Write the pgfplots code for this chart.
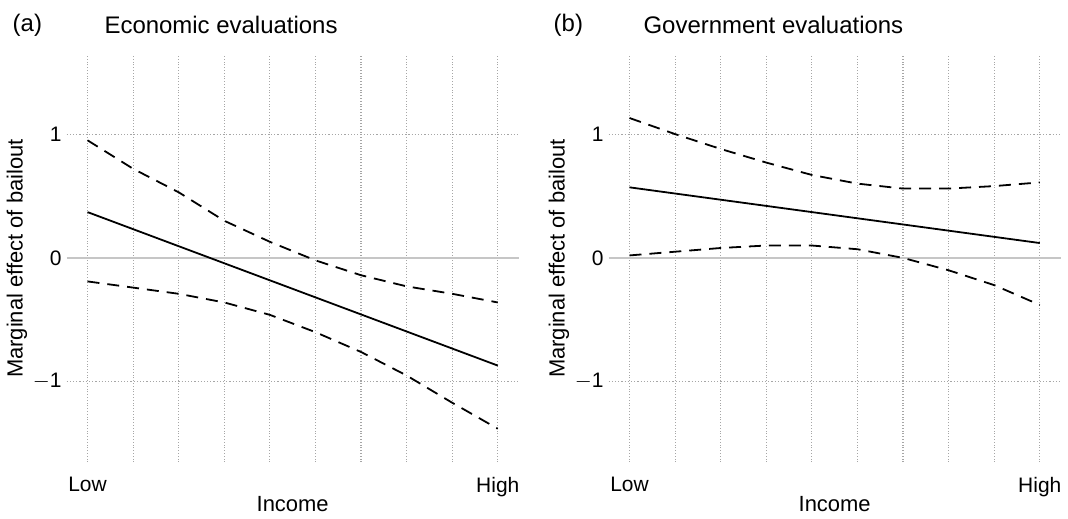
\documentclass[border=0pt]{standalone}
\usepackage{pgfplots}
\pgfplotsset{compat=1.18}
\usepackage{fontspec}
\setmainfont{Liberation Sans}
\pgfplotsset{
  panel/.style={
    scale only axis, width=226.5pt, height=204pt, anchor=south west,
    xmin=-0.46, xmax=9.46, ymin=-1.65, ymax=1.64,
    axis line style={draw=none}, major tick length=0pt,
    xtick={0,...,9}, xticklabels={Low,,,,,,,,,High},
    ytick={-1,0,1}, yticklabels={$-$1,0,1},
    /pgf/number format/assume math mode=true,
    xticklabel style={yshift=-4pt},
    yticklabel style={xshift=1pt},
    xmajorgrids, 
    tick label style={font=\fontsize{10.5}{12}\selectfont},
    label style={font=\fontsize{11}{13}\selectfont},
    xlabel={Income}, ylabel={Marginal effect of bailout},
    xlabel style={yshift=7pt},
    ylabel style={yshift=-4pt},
    grid style={densely dotted, gray!70, line width=0.6pt},
    clip=false,
  }
}
\begin{document}
\begin{tikzpicture}
\path (0pt,0pt) rectangle (534pt,258.5pt);
\begin{axis}[panel, at={(32.5pt,27pt)}]
\addplot[gray!45, line width=0.8pt, forget plot] coordinates {(-0.46,0) (9.46,0)};
\addplot[gray!70, densely dotted, line width=0.6pt, forget plot] coordinates {(-0.46,1) (9.46,1)};
\addplot[gray!70, densely dotted, line width=0.6pt, forget plot] coordinates {(-0.46,-1) (9.46,-1)};
\addplot[black, line width=0.9pt] coordinates {(0,0.37) (9,-0.87)};
\addplot[black, dashed, dash pattern=on 6pt off 4pt, line width=0.9pt] coordinates {
(0,0.95) (1,0.72) (2,0.53) (3,0.30) (4,0.13) (5,-0.02) (6,-0.14) (7,-0.23) (8,-0.29) (9,-0.36)};
\addplot[black, dashed, dash pattern=on 6pt off 4pt, line width=0.9pt] coordinates {
(0,-0.19) (1,-0.24) (2,-0.29) (3,-0.36) (4,-0.46) (5,-0.60) (6,-0.76) (7,-0.95) (8,-1.17) (9,-1.38)};
\end{axis}
\begin{axis}[panel, at={(304pt,27pt)}]
\addplot[gray!45, line width=0.8pt, forget plot] coordinates {(-0.46,0) (9.46,0)};
\addplot[gray!70, densely dotted, line width=0.6pt, forget plot] coordinates {(-0.46,1) (9.46,1)};
\addplot[gray!70, densely dotted, line width=0.6pt, forget plot] coordinates {(-0.46,-1) (9.46,-1)};
\addplot[black, line width=0.9pt] coordinates {(0,0.57) (9,0.12)};
\addplot[black, dashed, dash pattern=on 6pt off 4pt, line width=0.9pt] coordinates {
(0,1.13) (1,1.00) (2,0.88) (3,0.77) (4,0.67) (5,0.60) (6,0.56) (7,0.56) (8,0.58) (9,0.61)};
\addplot[black, dashed, dash pattern=on 6pt off 4pt, line width=0.9pt] coordinates {
(0,0.02) (1,0.05) (2,0.08) (3,0.10) (4,0.10) (5,0.07) (6,0.00) (7,-0.10) (8,-0.22) (9,-0.38)};
\end{axis}
\node[anchor=west, font=\fontsize{12}{14}\selectfont] at (2pt,246pt) {(a)};
\node[anchor=west, font=\fontsize{12}{14}\selectfont] at (48pt,246pt) {Economic evaluations};
\node[anchor=west, font=\fontsize{12}{14}\selectfont] at (273pt,246pt) {(b)};
\node[anchor=west, font=\fontsize{12}{14}\selectfont] at (318pt,246pt) {Government evaluations};
\end{tikzpicture}
\end{document}
